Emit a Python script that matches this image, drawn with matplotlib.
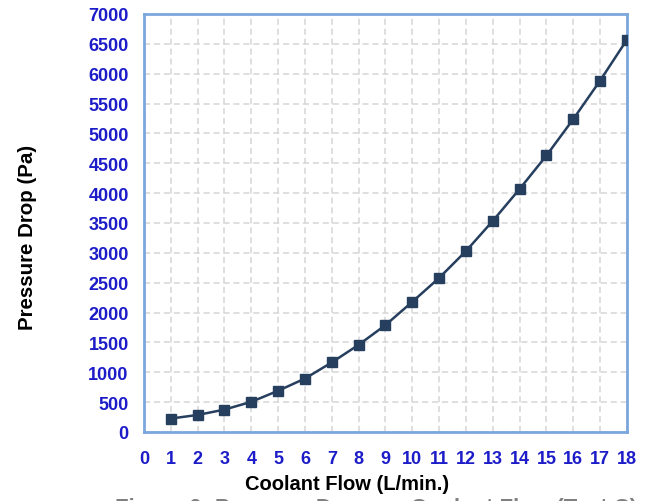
# Pressure drop vs coolant flow

import matplotlib.pyplot as plt
import numpy as np

flow = [1, 2, 3, 4, 5, 6, 7, 8, 9, 10, 11, 12, 13, 14, 15, 16, 17, 18]
dp = [225, 285, 375, 505, 690, 895, 1165, 1460, 1790, 2180, 2580, 3030,
      3535, 4070, 4630, 5240, 5885, 6570]
xticks = list(range(0, 19))
yticks = list(range(0, 7001, 500))

tick_font = dict(family=['Liberation Sans Narrow', 'Liberation Sans'],
                 weight='bold', size=13)
blue = '#1c1cc8'

fig = plt.figure(figsize=(6.5, 5.02), dpi=100)
ax = fig.add_axes([0.2215, 0.1375, 0.7431, 0.8327])

ax.plot(flow, dp, ls='-', lw=1.8, c='#263f5f', marker='s', ms=7,
        mfc='#263f5f', mec='#263f5f', zorder=3)

ax.set_xlim(0, 18)
ax.set_ylim(0, 7000)
ax.set_xticks(xticks)
ax.set_yticks(yticks)
ax.set_xticklabels([str(v) for v in xticks], fontdict=tick_font, color=blue)
ax.set_yticklabels([str(v) for v in yticks], fontdict=tick_font, color=blue)
ax.tick_params(axis='x', length=0, pad=13)
ax.tick_params(axis='y', length=0, pad=11)
ax.grid(color='#d6d6d6', linestyle=(0, (4, 2.5)), lw=1.1, zorder=0)
ax.set_axisbelow(True)

for s in ax.spines.values():
    s.set_color('#7ba7dc')
    s.set_linewidth(2)

fig.text(28 / 650, 1 - 237 / 502, "Pressure Drop (Pa)", rotation=90,
         ha='center', va='center', family='Liberation Sans', weight='bold',
         size=14.8)
fig.text(347 / 650, 1 - 485 / 502, "Coolant Flow (L/min.)", ha='center',
         va='center', family='Liberation Sans', weight='bold', size=14.5)
# caption of the source figure, only its top shows at the lower edge
fig.text(376 / 650, 1 - 514 / 502,
         "Figure 6: Pressure Drop vs. Coolant Flow (Test C)", ha='center',
         va='baseline', family='Liberation Sans', weight='bold', size=16,
         color='#808080')

fig.savefig('out.png', dpi=100)
